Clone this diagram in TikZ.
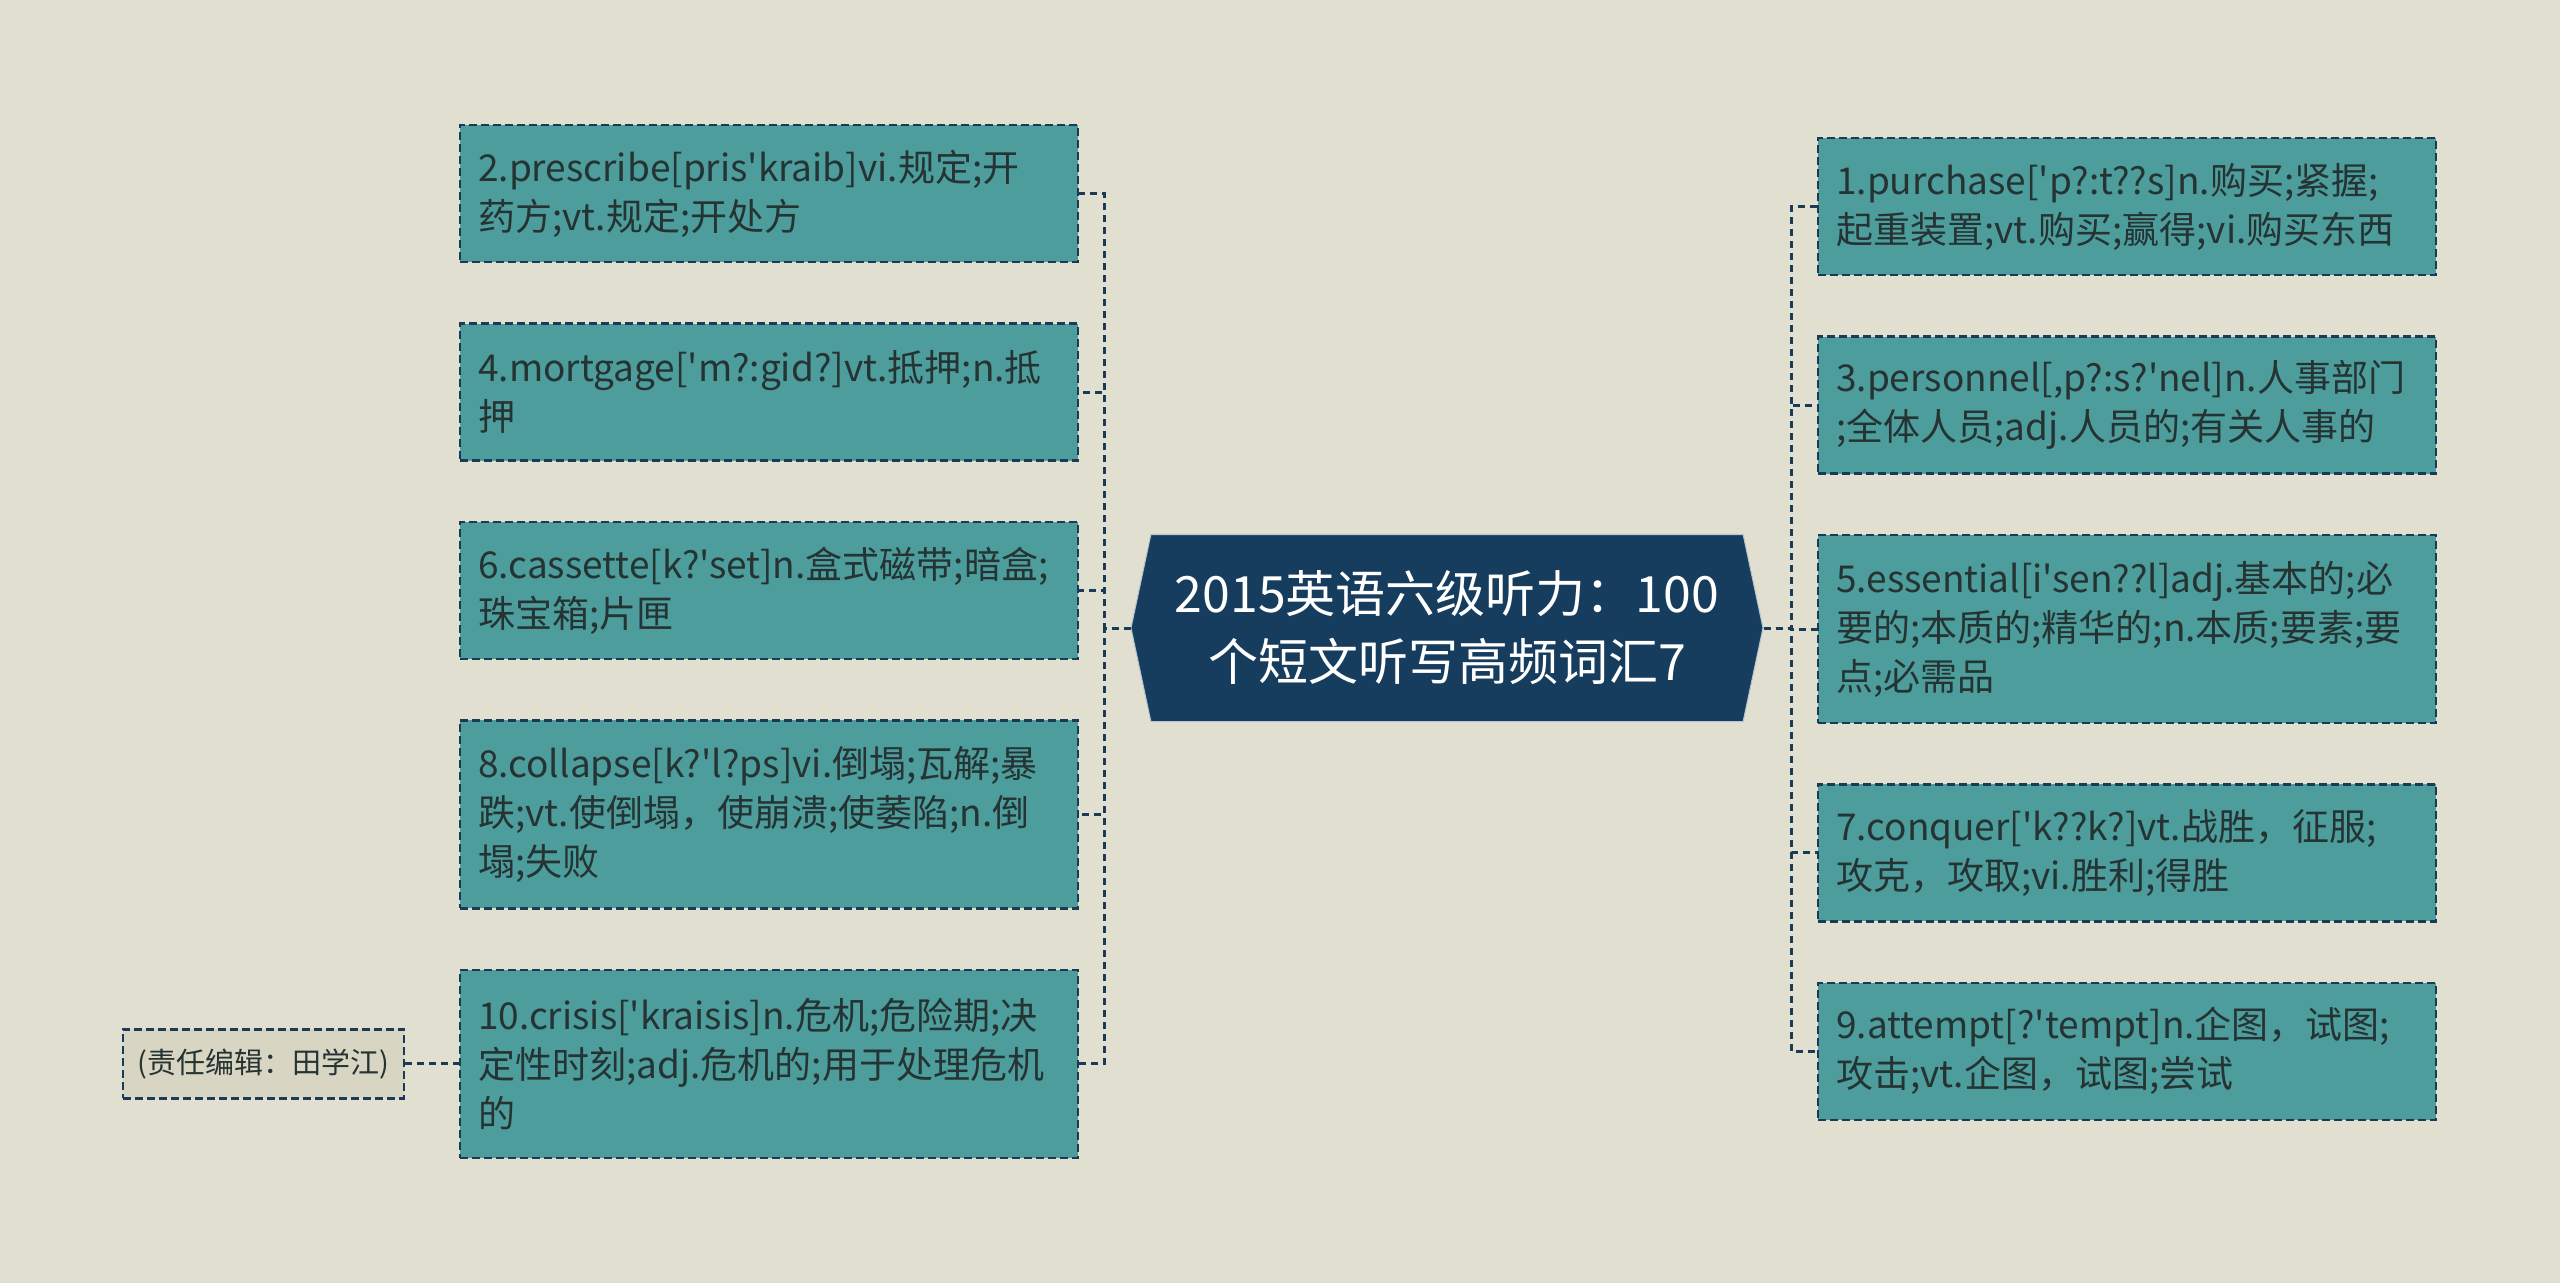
\documentclass[tikz,border=0pt]{standalone}
\usepackage{fontspec}
\setmainfont{Noto Sans CJK SC}[Ligatures=TeXOff]
\usetikzlibrary{positioning,shapes.symbols}
\definecolor{canvas}{HTML}{E0DFD0}
\definecolor{leafbg}{HTML}{4D9D9D}
\definecolor{navy}{HTML}{1B3A57}
\definecolor{rootbg}{HTML}{173D5E}
\definecolor{inkdark}{HTML}{263333}
\definecolor{notebg}{HTML}{D8D6C3}

\begin{document}
\begin{tikzpicture}[
  x=0.5pt,y=-0.5pt,
  node distance=29.5pt and 27pt,
  leaf/.style={draw=navy,dash pattern=on 4pt off 2pt,line width=1.2pt,fill=leafbg,text=inkdark,font=\fontsize{18.5}{24.5}\selectfont,text width=291pt,inner xsep=9pt,inner ysep=4pt,minimum height=68.5pt,align=left},
  tall/.style={minimum height=94pt},
  root/.style={shape=signal,signal to=west and east,signal pointer angle=156,fill=rootbg,draw=white!70!rootbg,line width=0.5pt,text=white,font=\fontsize{25}{34}\selectfont,align=center,minimum width=316pt,minimum height=93.5pt,inner sep=2pt},
  note/.style={draw=navy,dash pattern=on 4pt off 2pt,line width=1.2pt,fill=notebg,text=inkdark,font=\fontsize{14.5}{18}\selectfont,minimum width=140.5pt,minimum height=34.5pt,inner sep=2pt},
  link/.style={draw=navy,line width=1.5pt,dash pattern=on 3.5pt off 2.5pt}
]
\fill[canvas] (0,0) rectangle (2560,1283);
\useasboundingbox (0,0) rectangle (2560,1283);

\node[root] (root) at (1447,628) {2015英语六级听力：100\\个短文听写高频词汇7};

% left branch
\node[leaf,anchor=north west] (l2) at (459,124) {2.prescribe[pris'kraib]vi.规定;开\\药方;vt.规定;开处方};
\node[leaf,below=of l2] (l4) {4.mortgage['m?:gid?]vt.抵押;n.抵\\押};
\node[leaf,below=of l4] (l6) {6.cassette[k?'set]n.盒式磁带;暗盒;\\珠宝箱;片匣};
\node[leaf,tall,below=of l6] (l8) {8.collapse[k?'l?ps]vi.倒塌;瓦解;暴\\跌;vt.使倒塌，使崩溃;使萎陷;n.倒\\塌;失败};
\node[leaf,tall,below=of l8] (l10) {10.crisis['kraisis]n.危机;危险期;决\\定性时刻;adj.危机的;用于处理危机\\的};
\node[note,left=of l10] (editor) {(责任编辑：田学江)};

% right branch
\node[leaf,anchor=north west] (r1) at (1817,137) {1.purchase['p?:t??s]n.购买;紧握;\\起重装置;vt.购买;赢得;vi.购买东西};
\node[leaf,below=of r1] (r3) {3.personnel[,p?:s?'nel]n.人事部门\\;全体人员;adj.人员的;有关人事的};
\node[leaf,tall,below=of r3] (r5) {5.essential[i'sen??l]adj.基本的;必\\要的;本质的;精华的;n.本质;要素;要\\点;必需品};
\node[leaf,below=of r5] (r7) {7.conquer['k??k?]vt.战胜，征服;\\攻克，攻取;vi.胜利;得胜};
\node[leaf,below=of r7] (r9) {9.attempt[?'tempt]n.企图，试图;\\攻击;vt.企图，试图;尝试};

\foreach \n in {l2,l4,l6,l8,l10}
  \draw[link] (root.west) -- ++(-26,0) |- (\n.east);
\foreach \n in {r1,r3,r5,r7,r9}
  \draw[link] (root.east) -- ++(28,0) |- (\n.west);
\draw[link] (editor) -- (l10);
\end{tikzpicture}
\end{document}
